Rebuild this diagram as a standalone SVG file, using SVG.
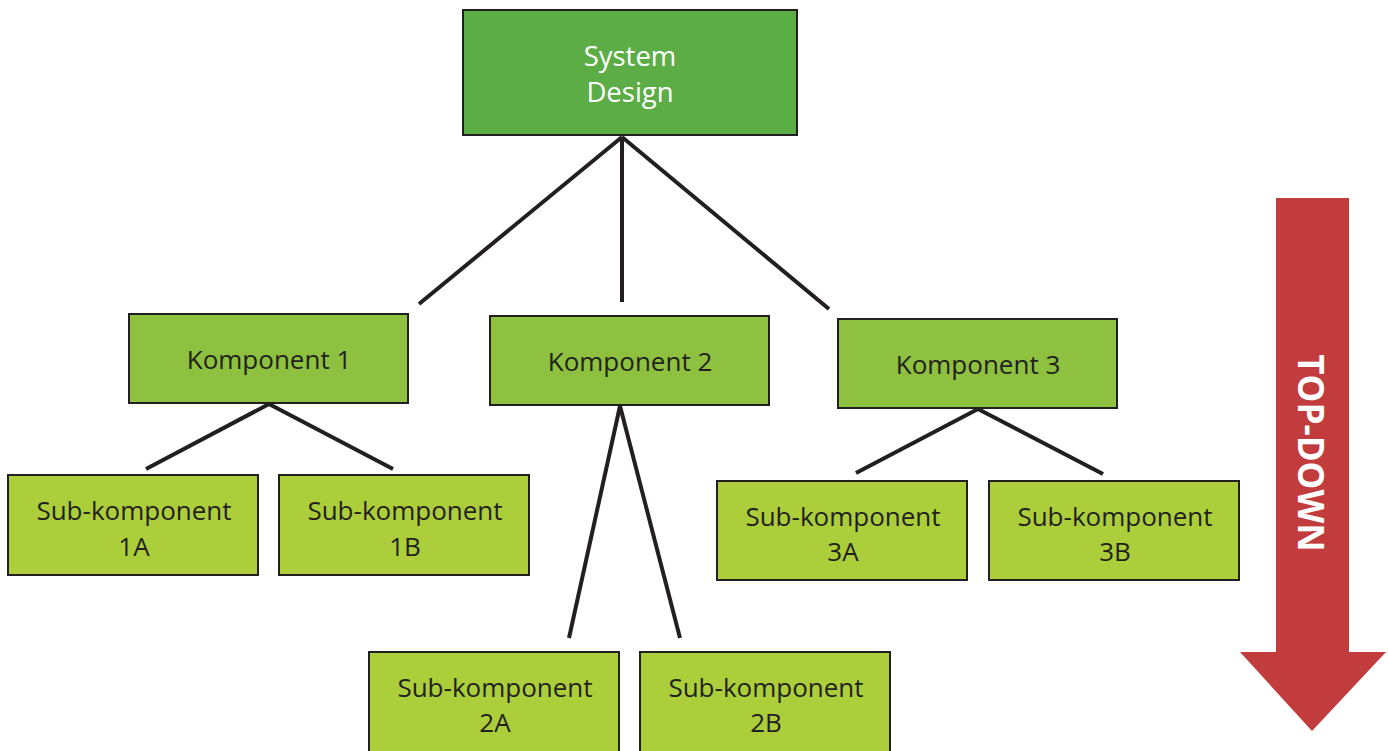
<svg xmlns="http://www.w3.org/2000/svg" width="1388" height="751" viewBox="0 0 1388 751">
<style>
.box{stroke:#231f20;stroke-width:2}
.top{fill:#5dad46}
.mid{fill:#8dc13f}
.sub{fill:#acce3a}
.t{font-family:"Open Sans","Noto Sans",sans-serif;font-size:26px;fill:#231f20;text-anchor:middle}
.tw{fill:#ffffff;font-size:27.5px}
.c{stroke:#231f20;stroke-width:4;fill:none}
</style>
<rect width="1388" height="751" fill="#ffffff"/>
<g id="connectors">
<line class="c" x1="622" y1="137" x2="419" y2="304"/>
<line class="c" x1="622" y1="137" x2="622" y2="302"/>
<line class="c" x1="622" y1="137" x2="829" y2="309"/>
<line class="c" x1="269" y1="404" x2="146" y2="469"/>
<line class="c" x1="269" y1="404" x2="393" y2="469"/>
<line class="c" x1="620" y1="406" x2="569" y2="638"/>
<line class="c" x1="620" y1="406" x2="680" y2="638"/>
<line class="c" x1="978" y1="409" x2="856" y2="473"/>
<line class="c" x1="978" y1="409" x2="1103" y2="474"/>
</g>
<g id="system-design">
<rect class="box top" x="463" y="10" width="334" height="125"/>
<text class="t tw" x="630" y="66">System</text>
<text class="t tw" x="630" y="102">Design</text>
</g>
<g id="komponent-1">
<rect class="box mid" x="129" y="314" width="279" height="89"/>
<text class="t" x="269" y="369">Komponent 1</text>
</g>
<g id="komponent-2">
<rect class="box mid" x="490" y="316" width="279" height="89"/>
<text class="t" x="630" y="371">Komponent 2</text>
</g>
<g id="komponent-3">
<rect class="box mid" x="838" y="319" width="279" height="89"/>
<text class="t" x="978" y="374">Komponent 3</text>
</g>
<g id="sub-1a">
<rect class="box sub" x="8" y="475" width="250" height="100"/>
<text class="t" x="134" y="520">Sub-komponent</text>
<text class="t" x="134" y="556">1A</text>
</g>
<g id="sub-1b">
<rect class="box sub" x="279" y="475" width="250" height="100"/>
<text class="t" x="405" y="520">Sub-komponent</text>
<text class="t" x="405" y="556">1B</text>
</g>
<g id="sub-2a">
<rect class="box sub" x="369" y="652" width="250" height="110"/>
<text class="t" x="495" y="697">Sub-komponent</text>
<text class="t" x="495" y="732">2A</text>
</g>
<g id="sub-2b">
<rect class="box sub" x="640" y="652" width="250" height="110"/>
<text class="t" x="766" y="697">Sub-komponent</text>
<text class="t" x="766" y="732">2B</text>
</g>
<g id="sub-3a">
<rect class="box sub" x="717" y="481" width="250" height="99"/>
<text class="t" x="843" y="526">Sub-komponent</text>
<text class="t" x="843" y="561">3A</text>
</g>
<g id="sub-3b">
<rect class="box sub" x="989" y="481" width="250" height="99"/>
<text class="t" x="1115" y="526">Sub-komponent</text>
<text class="t" x="1115" y="561">3B</text>
</g>
<g id="top-down-arrow">
<polygon points="1276,198 1349,198 1349,652 1386,652 1312,731 1240,652 1276,652" fill="#c33c3d"/>
<text transform="translate(1298,453) rotate(90)" font-family="'Open Sans','Noto Sans',sans-serif" font-size="35" font-weight="bold" fill="#ffffff" text-anchor="middle">TOP-DOWN</text>
</g>
</svg>
